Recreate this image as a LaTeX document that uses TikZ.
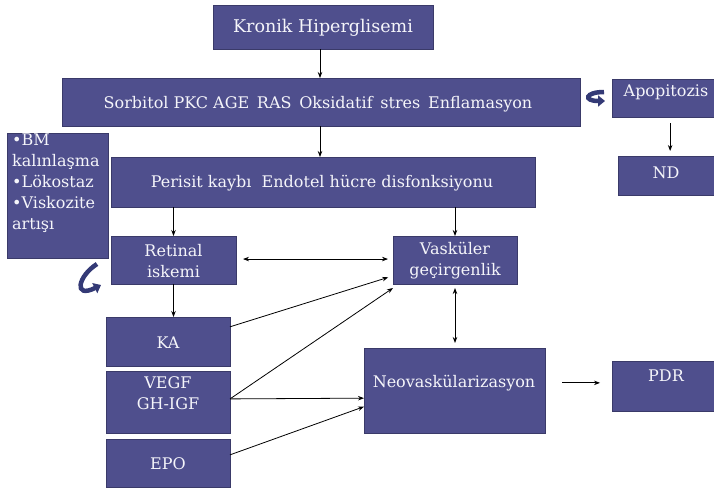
\documentclass[tikz,border=0pt]{standalone}
\usepackage{fontspec}
\setmainfont{DejaVu Serif}
\usetikzlibrary{arrows.meta,calc}
\definecolor{boxfill}{RGB}{79,79,141}
\definecolor{boxline}{RGB}{58,58,105}
\definecolor{curvcol}{RGB}{52,58,118}
\definecolor{txtcol}{RGB}{245,245,250}
\tikzset{
 box/.style={draw=boxline, fill=boxfill, line width=0.8pt, inner sep=0pt, outer sep=0pt},
 lbl/.style={text=txtcol, font=\fontsize{16}{21}\selectfont, inner sep=0pt, align=center},
 arr/.style={draw=black, line width=0.8pt, -{Stealth[length=6pt,width=4.5pt]}},
 darr/.style={draw=black, line width=0.8pt, {Stealth[length=6pt,width=4.5pt]}-{Stealth[length=6pt,width=4.5pt]}},
 curv/.style={draw=curvcol, line width=4.5pt, -{Triangle[length=7pt,width=11pt]}},
}
\begin{document}
\begin{tikzpicture}[x=1pt,y=-1pt]
\useasboundingbox[fill=white] (0,0) rectangle (714,488);
% boxes
\node[box, minimum width=220pt, minimum height=44pt] (kh) at (323,27) {};
\node[box, minimum width=518pt, minimum height=48pt] (sorb) at (321,102) {};
\node[box, minimum width=102pt, minimum height=38pt] (apo) at (663,98) {};
\node[box, minimum width=96pt, minimum height=39pt] (nd) at (666,175.5) {};
\node[box, minimum width=101pt, minimum height=125pt] (bm) at (57.5,195.5) {};
\node[box, minimum width=424pt, minimum height=50pt] (per) at (323,182) {};
\node[box, minimum width=125pt, minimum height=48pt] (ret) at (173.5,260) {};
\node[box, minimum width=124pt, minimum height=48pt] (vas) at (455,260) {};
\node[box, minimum width=124pt, minimum height=49pt] (ka) at (168,341.5) {};
\node[box, minimum width=124pt, minimum height=62pt] (vegf) at (168,402) {};
\node[box, minimum width=124pt, minimum height=48pt] (epo) at (168,463) {};
\node[box, minimum width=181pt, minimum height=85pt] (neo) at (454.5,390.5) {};
\node[box, minimum width=102pt, minimum height=50pt] (pdr) at (663,386) {};
% texts
\node[lbl, font=\fontsize{17.5}{21}\selectfont] (kh-t) at (323,28) {Kronik Hiperglisemi};
\node[lbl] (sorb-t) at (318,104) {Sorbitol PKC AGE\, RAS\, Oksidatif\, stres\, Enflamasyon};
\node[lbl] (apo-t) at (666,92) {Apopitozis};
\node[lbl] (nd-t) at (666,173) {ND};
\node[lbl, align=left, anchor=north west] (bm-t) at (12,134) {•BM\\kalınlaşma\\•Lökostaz\\•Viskozite\\artışı};
\node[lbl] (per-t) at (322,183) {Perisit kaybı~ Endotel hücre disfonksiyonu};
\node[lbl] (ret-t) at (173.5,261) {Retinal\\iskemi};
\node[lbl] (vas-t) at (455,261) {Vasküler\\geçirgenlik};
\node[lbl] (ka-t) at (168,343) {KA};
\node[lbl] (vegf-t) at (168,393) {VEGF\\GH-IGF};
\node[lbl] (epo-t) at (168,464) {EPO};
\node[lbl] (neo-t) at (454,383) {Neovaskülarizasyon};
\node[lbl] (pdr-t) at (666,376) {PDR};
% helper coordinates
\coordinate (apoS) at ($(apo.south west)!0.57!(apo.south east)$);
\coordinate (kaE) at ($(ka.north east)!0.2!(ka.south east)$);
\coordinate (vegfE) at ($(vegf.north east)!0.45!(vegf.south east)$);
\coordinate (epoE) at ($(epo.north east)!0.33!(epo.south east)$);
\coordinate (neoE) at ($(neo.north east)!0.41!(neo.south east)$);
% connectors
\draw[arr] ([xshift=-3pt]kh.south) -- ([xshift=-3pt]kh.south |- sorb.north);
\draw[arr] ([xshift=-1pt]sorb.south) -- ([xshift=-1pt]sorb.south |- per.north);
\draw[arr] (ret.north |- per.south) -- (ret.north);
\draw[arr] (vas.north |- per.south) -- (vas.north);
\draw[darr, shorten <=7pt, shorten >=5pt] ($(ret.north east)!0.48!(ret.south east)$) -- ($(vas.north west)!0.48!(vas.south west)$);
\draw[arr] (ret.south) -- (ret.south |- ka.north);
\draw[arr, shorten >=5pt] (kaE) -- ($(vas.north west)!0.83!(vas.south west)$);
\draw[arr] (vegfE) -- ([shift={(0pt,-4pt)}]vas.south west);
\draw[arr] (vegfE) -- ($(neo.north west)!0.59!(neo.south west)$);
\draw[arr] (epoE) -- ($(neo.north west)!0.69!(neo.south west)$);
\draw[darr, shorten <=4pt, shorten >=5pt] (vas.south) -- (vas.south |- neo.north);
\draw[arr, shorten <=17pt, shorten >=12pt] (neoE) -- (neoE -| pdr.west);
\draw[arr, shorten <=6pt, shorten >=5pt] (apoS) -- (apoS |- nd.north);
% curved arrows
\draw[curv] (97,264) .. controls (78,276) and (73,299) .. (101,285);
\draw[curv] (604,92) .. controls (585,92) and (583,101) .. (605,101);
\end{tikzpicture}
\end{document}
